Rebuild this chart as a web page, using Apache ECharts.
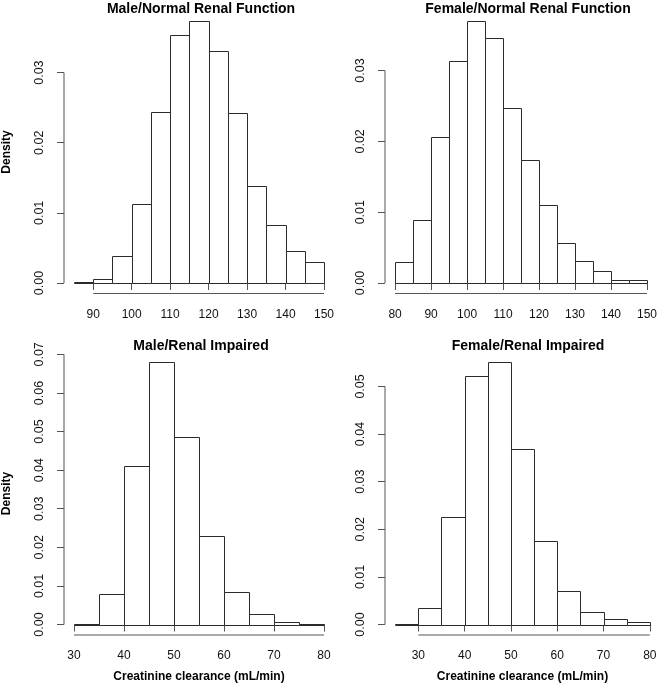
<!DOCTYPE html>
<html>
<head>
<meta charset="utf-8">
<script src="https://cdn.jsdelivr.net/npm/echarts@6/dist/echarts.min.js"></script>
<style>
html,body{margin:0;padding:0;background:#fff;}
#chart{width:660px;height:691px;}
</style>
</head>
<body>
<div id="chart"></div>
<script>
// ---- data ----
const binWidth = 5;
const titles = ["Male/Normal Renal Function", "Female/Normal Renal Function", "Male/Renal Impaired", "Female/Renal Impaired"];
const binStarts = [85, 80, 30, 25];
const maleNormal = [0.0001, 0.00057, 0.0039, 0.01125, 0.02445, 0.0353, 0.03736, 0.0331, 0.02417, 0.01377, 0.0083, 0.00456, 0.0030];
const femaleNormal = [0.0029, 0.00893, 0.02064, 0.03136, 0.0370, 0.03456, 0.02468, 0.01735, 0.0110, 0.0057, 0.00315, 0.0017, 0.00047, 0.00037];
const maleImpaired = [0.00015, 0.00803, 0.0410, 0.0679, 0.0486, 0.02287, 0.00846, 0.0026, 0.0006, 0.0002];
const femaleImpaired = [0.00005, 0.0035, 0.0226, 0.05224, 0.05503, 0.0369, 0.01762, 0.00713, 0.00273, 0.00126, 0.00063];
const xTicksMaleNormal = [90, 100, 110, 120, 130, 140, 150];
const xTicksFemaleNormal = [80, 90, 100, 110, 120, 130, 140, 150];
const xTicksImpaired = [30, 40, 50, 60, 70, 80];
const yTicksNormal = [0, 0.01, 0.02, 0.03];
const yTicksMaleImpaired = [0, 0.01, 0.02, 0.03, 0.04, 0.05, 0.06, 0.07];
const yTicksFemaleImpaired = [0, 0.01, 0.02, 0.03, 0.04, 0.05];
const yLabel = "Density";
const xLabel = "Creatinine clearance (mL/min)";

// ---- layout ----
const FONT = '"Liberation Sans", Arial, Helvetica, sans-serif';
const INK = '#2b2b2b';
const AXIS = '#555';
const panels = [
  {values: maleNormal, xTicks: xTicksMaleNormal, yTicks: yTicksNormal, left: 58, top: 10.5, ylab: true, xlab: false},
  {values: femaleNormal, xTicks: xTicksFemaleNormal, yTicks: yTicksNormal, left: 385, top: 10.5, ylab: false, xlab: false},
  {values: maleImpaired, xTicks: xTicksImpaired, yTicks: yTicksMaleImpaired, left: 58, top: 352, ylab: true, xlab: true},
  {values: femaleImpaired, xTicks: xTicksImpaired, yTicks: yTicksFemaleImpaired, left: 385, top: 352, ylab: false, xlab: true}
];
const GW = 276, GH = 283;

const grid = [], xAxis = [], yAxis = [], series = [], title = [];
panels.forEach((p, i) => {
  const start = binStarts[i];
  const lo = start, hi = start + binWidth * p.values.length;
  const xpad = 0.04 * (hi - lo);
  const ymaxData = Math.max.apply(null, p.values);
  const ypad = 0.04 * ymaxData;
  const xmin = lo - xpad, xmax = hi + xpad, ymin = -ypad, ymax = ymaxData + ypad;

  grid.push({left: p.left, top: p.top, width: GW, height: GH, containLabel: false});
  title.push({
    text: titles[i], left: p.left + GW / 2, top: i < 2 ? -3 : 334, textAlign: 'center',
    textStyle: {fontFamily: FONT, fontWeight: 'bold', fontSize: 14, color: '#000'}
  });
  xAxis.push({
    type: 'value', gridIndex: i, min: xmin, max: xmax,
    axisLine: {show: false}, splitLine: {show: false},
    axisTick: {show: true, customValues: p.xTicks, length: 7, inside: false, lineStyle: {color: AXIS, width: 1}},
    axisLabel: {show: true, customValues: p.xTicks, margin: 15, fontFamily: FONT, fontSize: 12, color: '#111',
      formatter: v => String(v)},
    name: p.xlab ? xLabel : '', nameLocation: 'middle', nameGap: 36,
    nameTextStyle: {fontFamily: FONT, fontWeight: 'bold', fontSize: 12, color: '#000'}
  });
  yAxis.push({
    type: 'value', gridIndex: i, min: ymin, max: ymax,
    axisLine: {show: false}, splitLine: {show: false},
    axisTick: {show: true, customValues: p.yTicks, length: 7, inside: false, lineStyle: {color: AXIS, width: 1}},
    axisLabel: {show: true, customValues: p.yTicks, margin: 18, rotate: 90, fontFamily: FONT, fontSize: 12.5, color: '#111',
      formatter: v => Number(v).toFixed(2)},
    name: p.ylab ? yLabel : '', nameLocation: 'middle', nameGap: 51, nameRotate: 90,
    nameTextStyle: {fontFamily: FONT, fontWeight: 'bold', fontSize: 12, color: '#000'}
  });
  // histogram bars
  series.push({
    type: 'custom', xAxisIndex: i, yAxisIndex: i, silent: true,
    data: p.values.map((v, k) => [start + k * binWidth, start + (k + 1) * binWidth, v]),
    renderItem: (params, api) => {
      const a = api.coord([api.value(0), 0]);
      const b = api.coord([api.value(1), api.value(2)]);
      const x0 = Math.round(a[0]) + 0.5, x1 = Math.round(b[0]) + 0.5;
      const y0 = Math.round(a[1]) + 0.5, y1 = Math.round(b[1]) + 0.5;
      return {type: 'rect', shape: {x: x0, y: y1, width: x1 - x0, height: y0 - y1},
        style: {fill: '#fff', stroke: INK, lineWidth: 1}};
    }
  });
  // axis lines spanning first to last tick (R style)
  series.push({
    type: 'line', xAxisIndex: i, yAxisIndex: i, silent: true, clip: false, symbol: 'none',
    data: [[p.xTicks[0], ymin], [p.xTicks[p.xTicks.length - 1], ymin]],
    lineStyle: {color: AXIS, width: 1}
  });
  series.push({
    type: 'line', xAxisIndex: i, yAxisIndex: i, silent: true, clip: false, symbol: 'none',
    data: [[xmin, p.yTicks[0]], [xmin, p.yTicks[p.yTicks.length - 1]]],
    lineStyle: {color: AXIS, width: 1}
  });
});

const chart = echarts.init(document.getElementById('chart'), null, {renderer: 'canvas'});
chart.setOption({
  animation: false,
  backgroundColor: '#fff',
  title: title, grid: grid, xAxis: xAxis, yAxis: yAxis, series: series
});
</script>
</body>
</html>
